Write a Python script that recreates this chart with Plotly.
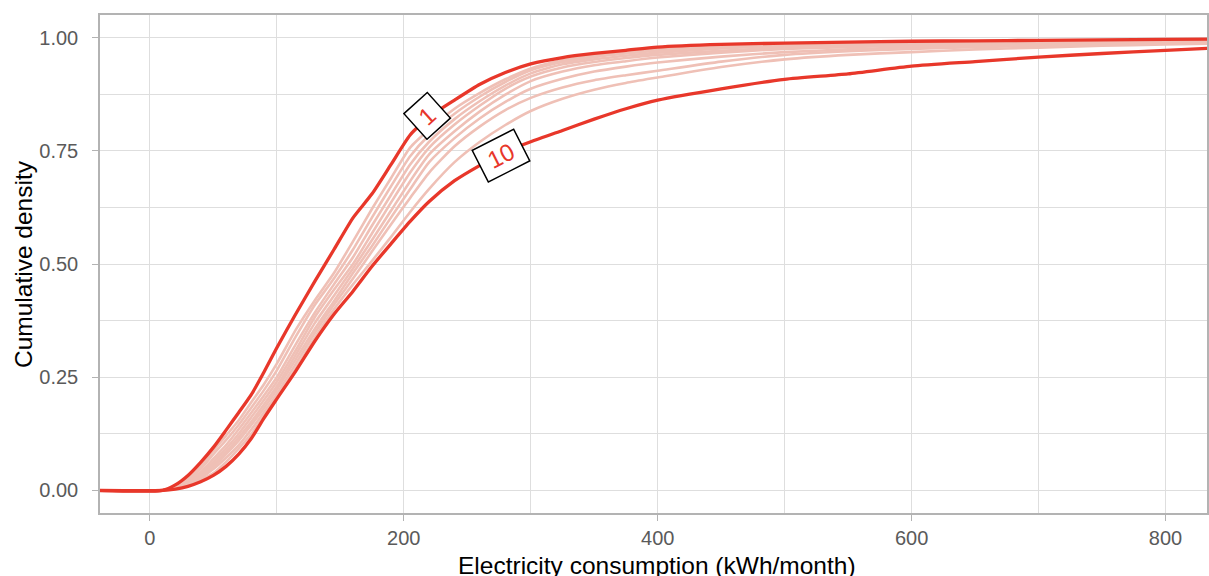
import plotly.graph_objects as go

# Shared x grid (kWh/month)
x_grid = [-45, 10, 20, 30, 40, 50, 60, 70, 80, 90, 100, 115, 130, 145, 160, 175, 190, 205, 220,
          240, 260, 280, 300, 325, 350, 375, 400, 450, 500, 550, 600, 650, 700, 750, 800, 840]

# Cumulative density per decile
decile_1 = [0, 0, 0.012, 0.033, 0.062, 0.095, 0.133, 0.172, 0.212, 0.262, 0.315, 0.39, 0.462, 0.532,
            0.602, 0.655, 0.72, 0.785, 0.825, 0.862, 0.897, 0.923, 0.942, 0.956, 0.965, 0.972, 0.979,
            0.985, 0.988, 0.990, 0.992, 0.993, 0.994, 0.995, 0.996, 0.997]
decile_2 = [0, 0, 0.01, 0.027, 0.053, 0.088, 0.121, 0.155, 0.195, 0.235, 0.28, 0.355, 0.42, 0.48,
            0.55, 0.622, 0.69, 0.757, 0.797, 0.843, 0.878, 0.908, 0.932, 0.95, 0.961, 0.969, 0.975,
            0.982, 0.986, 0.988, 0.990, 0.992, 0.993, 0.994, 0.995, 0.996]
decile_3 = [0, 0, 0.009, 0.024, 0.047, 0.08, 0.111, 0.145, 0.183, 0.222, 0.265, 0.34, 0.41, 0.468,
            0.532, 0.603, 0.672, 0.738, 0.785, 0.832, 0.87, 0.902, 0.928, 0.946, 0.957, 0.965, 0.971,
            0.979, 0.984, 0.987, 0.989, 0.991, 0.992, 0.993, 0.994, 0.995]
decile_4 = [0, 0, 0.008, 0.021, 0.04, 0.07, 0.1, 0.135, 0.172, 0.21, 0.25, 0.323, 0.393, 0.455,
            0.515, 0.585, 0.653, 0.72, 0.77, 0.82, 0.86, 0.894, 0.921, 0.941, 0.952, 0.96, 0.967,
            0.976, 0.982, 0.985, 0.987, 0.989, 0.991, 0.992, 0.993, 0.994]
decile_5 = [0, 0, 0.007, 0.019, 0.036, 0.063, 0.092, 0.125, 0.162, 0.2, 0.24, 0.31, 0.383, 0.443,
            0.5, 0.568, 0.636, 0.702, 0.757, 0.808, 0.85, 0.887, 0.914, 0.934, 0.946, 0.955, 0.962,
            0.971, 0.978, 0.982, 0.985, 0.988, 0.99, 0.991, 0.992, 0.993]
decile_6 = [0, 0, 0.006, 0.017, 0.033, 0.057, 0.085, 0.117, 0.152, 0.19, 0.23, 0.3, 0.37, 0.43,
            0.49, 0.553, 0.618, 0.683, 0.742, 0.793, 0.837, 0.874, 0.904, 0.925, 0.939, 0.948, 0.956,
            0.967, 0.975, 0.979, 0.983, 0.986, 0.988, 0.99, 0.991, 0.992]
decile_7 = [0, 0, 0.005, 0.015, 0.03, 0.052, 0.08, 0.11, 0.145, 0.182, 0.222, 0.29, 0.357, 0.418,
            0.48, 0.54, 0.603, 0.665, 0.725, 0.778, 0.822, 0.858, 0.887, 0.909, 0.925, 0.936, 0.945,
            0.958, 0.968, 0.974, 0.979, 0.983, 0.986, 0.988, 0.99, 0.991]
decile_8 = [0, 0, 0.004, 0.013, 0.027, 0.047, 0.072, 0.1, 0.135, 0.173, 0.213, 0.28, 0.348, 0.41,
            0.468, 0.528, 0.588, 0.646, 0.702, 0.76, 0.804, 0.84, 0.867, 0.89, 0.906, 0.917, 0.927,
            0.947, 0.962, 0.97, 0.975, 0.979, 0.982, 0.985, 0.988, 0.989]
decile_9 = [0, 0, 0.004, 0.011, 0.023, 0.038, 0.063, 0.092, 0.125, 0.165, 0.205, 0.27, 0.338, 0.4,
            0.455, 0.507, 0.56, 0.615, 0.666, 0.725, 0.77, 0.807, 0.838, 0.865, 0.885, 0.9, 0.912,
            0.935, 0.952, 0.962, 0.968, 0.974, 0.978, 0.982, 0.985, 0.987]
decile_10 = [0, 0, 0.003, 0.009, 0.019, 0.033, 0.053, 0.08, 0.115, 0.16, 0.202, 0.264, 0.33, 0.389,
             0.44, 0.495, 0.545, 0.594, 0.638, 0.684, 0.718, 0.748, 0.77, 0.795, 0.82, 0.843, 0.862,
             0.887, 0.908, 0.92, 0.937, 0.947, 0.957, 0.965, 0.972, 0.977]

pink_series = [decile_2, decile_3, decile_4, decile_5, decile_6, decile_7, decile_8, decile_9]
x_ticks = [0, 200, 400, 600, 800]
y_ticks = [0, 0.25, 0.5, 0.75, 1.0]

RED = "#e8372a"
PINK = "#efc0b6"
FONT = "Liberation Sans, Arial, Helvetica, sans-serif"

fig = go.Figure()
for s in pink_series:
    fig.add_trace(go.Scatter(x=x_grid, y=s, mode="lines",
                             line=dict(color=PINK, width=2.6, shape="spline", smoothing=0.6),
                             showlegend=False, hoverinfo="skip"))
for s in [decile_1, decile_10]:
    fig.add_trace(go.Scatter(x=x_grid, y=s, mode="lines",
                             line=dict(color=RED, width=3.3, shape="spline", smoothing=0.6),
                             showlegend=False, hoverinfo="skip"))

# Direct labels: text, x, y, angle, box width, box height
labels = [("1", 218.4, 0.826, -42, 28, 31), ("10", 276.8, 0.7395, -27, 43, 32)]
for txt, lx, ly, ang, bw, bh in labels:
    fig.add_annotation(x=lx, y=ly, xref="x", yref="y", text=txt, showarrow=False,
                       textangle=ang, font=dict(family=FONT, size=24, color=RED),
                       width=bw, height=bh, align="center", valign="middle",
                       bgcolor="white", bordercolor="black", borderwidth=1.5, borderpad=1)

# Axis titles
fig.add_annotation(x=0.5032, y=0, xref="paper", yref="paper", yanchor="middle", yshift=-52,
                   text="Electricity consumption (kWh/month)", showarrow=False,
                   font=dict(family=FONT, size=24.5, color="black"))
fig.add_annotation(x=0, y=0.5, xref="paper", yref="paper", xanchor="center", xshift=-77,
                   text="Cumulative density", textangle=-90, showarrow=False,
                   font=dict(family=FONT, size=24.5, color="black"))

grid_col = "#dedede"
border_col = "#b3b3b3"
common = dict(showgrid=True, gridcolor=grid_col, gridwidth=1.2, zeroline=False,
              showline=True, linecolor=border_col, linewidth=1.5, mirror=True,
              ticks="outside", ticklen=6, tickcolor=border_col, tickwidth=1.2,
              tickfont=dict(family=FONT, size=20, color="#5a5a5a"))
fig.update_xaxes(range=[-39.3, 832.7], tickvals=x_ticks, ticktext=[str(v) for v in x_ticks],
                 minor=dict(dtick=100, tick0=0, showgrid=True, gridcolor=grid_col, gridwidth=1, ticks=""),
                 ticklabelstandoff=0, **common)
fig.update_yaxes(range=[-0.05, 1.05], tickvals=y_ticks, ticktext=["%.2f" % v for v in y_ticks],
                 minor=dict(dtick=0.125, tick0=0, showgrid=True, gridcolor=grid_col, gridwidth=1, ticks=""),
                 ticklabelstandoff=10, **common)

fig.update_layout(width=1209, height=576, margin=dict(l=100, r=0, t=15, b=63),
                  paper_bgcolor="white", plot_bgcolor="white", showlegend=False)

fig.write_html("out.html")
